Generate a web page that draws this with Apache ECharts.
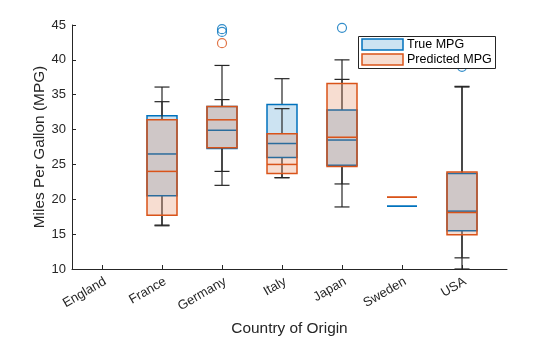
<!DOCTYPE html>
<html>
<head>
<meta charset="utf-8">
<script src="https://cdn.jsdelivr.net/npm/echarts@6/dist/echarts.min.js"></script>
<style>html,body{margin:0;padding:0;background:#fff}#c{width:560px;height:337px}</style>
</head>
<body>
<div id="c"></div>
<script>
const categories = ['England','France','Germany','Italy','Japan','Sweden','USA'];
const yTicks = [10,15,20,25,30,35,40,45];
const seriesNames = ['True MPG','Predicted MPG'];

const trueMin    = [null,16.2,22.0,23.1,18.9,19.0,10.0];
const trueQ1     = [null,20.5,27.3,26.0,24.9,19.0,15.5];
const trueMedian = [null,26.5,29.9,28.0,28.5,19.0,18.3];
const trueQ3     = [null,32.0,33.3,33.6,32.8,19.0,23.7];
const trueMax    = [null,36.1,39.2,37.3,37.2,19.0,36.1];
const trueOutliers = [[3,44.4],[3,44.0],[5,44.6],[7,39.0]];

const predMin    = [null,16.3,24.0,23.1,22.2,20.3,11.6];
const predQ1     = [null,17.7,27.4,23.7,24.7,20.3,14.9];
const predMedian = [null,24.0,31.4,25.0,28.9,20.3,18.1];
const predQ3     = [null,31.4,33.3,29.4,36.6,20.3,23.9];
const predMax    = [null,34.0,34.3,33.0,40.0,20.3,36.2];
const predOutliers = [[3,42.4]];

const blue = '#0072BD', orange = '#D95319';
const blueFill = 'rgba(0,114,189,0.2)', orangeFill = 'rgba(217,83,25,0.2)';
const whisk = '#262626';

function boxData(mn,q1,md,q3,mx){
  const out=[];
  for(let i=0;i<categories.length;i++){
    if(md[i]==null) continue;
    out.push([i+1,mn[i],q1[i],md[i],q3[i],mx[i]]);
  }
  return out;
}

function makeRender(stroke, fill){
  return function(params, api){
    const x = api.value(0);
    const mn=api.value(1), q1=api.value(2), md=api.value(3), q3=api.value(4), mx=api.value(5);
    const cx = api.coord([x,md])[0];
    const Y = v => api.coord([x,v])[1];
    const hw = api.size([0.5,0])[0]/2;
    const cw = api.size([0.25,0])[0]/2;
    const wl = {stroke:whisk,lineWidth:1.2};
    const ch = [];
    ch.push({type:'line',shape:{x1:cx,y1:Y(q3),x2:cx,y2:Y(mx)},style:wl});
    ch.push({type:'line',shape:{x1:cx,y1:Y(q1),x2:cx,y2:Y(mn)},style:wl});
    if(mx>q3) ch.push({type:'line',shape:{x1:cx-cw,y1:Y(mx),x2:cx+cw,y2:Y(mx)},style:wl});
    if(mn<q1) ch.push({type:'line',shape:{x1:cx-cw,y1:Y(mn),x2:cx+cw,y2:Y(mn)},style:wl});
    ch.push({type:'rect',shape:{x:cx-hw,y:Y(q3),width:2*hw,height:Y(q1)-Y(q3)},style:{fill:fill,stroke:stroke,lineWidth:1.5}});
    ch.push({type:'line',shape:{x1:cx-hw,y1:Y(md),x2:cx+hw,y2:Y(md)},style:{stroke:stroke,lineWidth:1.5}});
    return {type:'group',children:ch};
  };
}

const chart = echarts.init(document.getElementById('c'), null, {renderer:'canvas'});
const axisCol = '#262626';
chart.setOption({
  animation:false,
  grid:{left:72,top:25,width:435,height:244,containLabel:false,outerBoundsMode:'none'},
  xAxis:{
    type:'value',min:0.5,max:7.75,
    name:'Country of Origin',nameLocation:'middle',nameGap:52,nameMoveOverlap:false,
    nameTextStyle:{fontFamily:'Liberation Sans',fontSize:15.4,color:axisCol},
    axisLine:{lineStyle:{color:axisCol}},
    axisTick:{inside:true,length:4,customValues:[1,2,3,4,5,6,7],lineStyle:{color:axisCol}},
    axisLabel:{customValues:[1,2,3,4,5,6,7],formatter:v=>categories[Math.round(v)-1],rotate:30,
      align:'right',verticalAlign:'top',
      fontFamily:'Liberation Sans',fontSize:13,color:axisCol,margin:6},
    splitLine:{show:false}
  },
  yAxis:{
    type:'value',min:10,max:45,interval:5,
    name:'Miles Per Gallon (MPG)',nameLocation:'middle',nameGap:25,nameMoveOverlap:false,
    nameTextStyle:{fontFamily:'Liberation Sans',fontSize:15.4,color:axisCol},
    axisLine:{show:true,lineStyle:{color:axisCol}},
    axisTick:{show:true,inside:true,length:4,lineStyle:{color:axisCol}},
    axisLabel:{fontFamily:'Liberation Sans',fontSize:13,color:axisCol,margin:6,
      formatter:v=>yTicks.includes(v)?String(v):''},
    splitLine:{show:false}
  },
  series:[
    {type:'custom',name:seriesNames[0],clip:false,renderItem:makeRender(blue,blueFill),
      data:boxData(trueMin,trueQ1,trueMedian,trueQ3,trueMax),encode:{x:0,y:[1,2,3,4,5]}},
    {type:'scatter',symbol:'circle',symbolSize:9,data:trueOutliers,
      itemStyle:{color:'rgba(0,0,0,0)',borderColor:blue,borderWidth:1.2}},
    {type:'custom',name:seriesNames[1],clip:false,renderItem:makeRender(orange,orangeFill),
      data:boxData(predMin,predQ1,predMedian,predQ3,predMax),encode:{x:0,y:[1,2,3,4,5]}},
    {type:'scatter',symbol:'circle',symbolSize:9,data:predOutliers,
      itemStyle:{color:'rgba(0,0,0,0)',borderColor:orange,borderWidth:1.2}}
  ],
  graphic:[
    {type:'rect',z:100,shape:{x:358.5,y:36.5,width:137,height:32},style:{fill:'#fff',stroke:'#262626',lineWidth:1}},
    {type:'rect',z:101,shape:{x:362,y:39,width:41,height:11},style:{fill:blueFill,stroke:blue,lineWidth:1.5}},
    {type:'rect',z:101,shape:{x:362,y:54,width:41,height:11},style:{fill:orangeFill,stroke:orange,lineWidth:1.5}},
    {type:'text',z:101,x:407,y:44.5,style:{text:seriesNames[0],font:'12.5px "Liberation Sans"',fill:'#000',verticalAlign:'middle'}},
    {type:'text',z:101,x:407,y:59.5,style:{text:seriesNames[1],font:'12.5px "Liberation Sans"',fill:'#000',verticalAlign:'middle'}}
  ]
});
</script>
</body>
</html>
